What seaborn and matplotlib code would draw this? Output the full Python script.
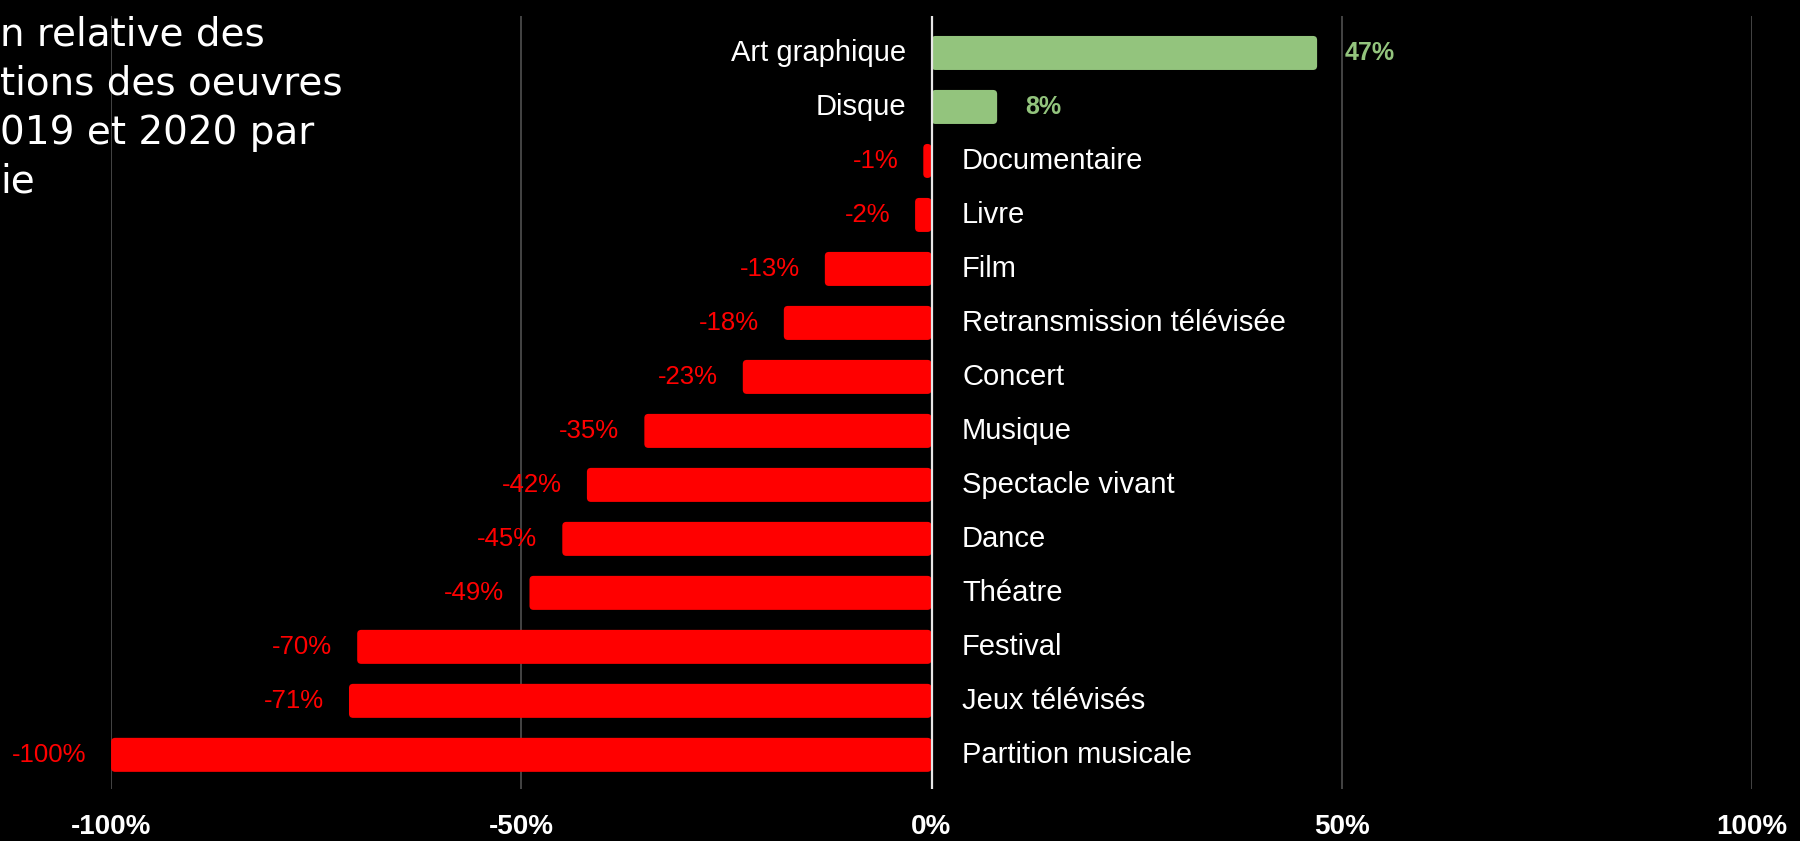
import matplotlib
matplotlib.use("Agg")
import matplotlib.pyplot as plt
from matplotlib.patches import FancyBboxPatch
import seaborn as sns
import pandas as pd

# Data
categories = ['Art graphique', 'Disque', 'Documentaire', 'Livre', 'Film',
              'Retransmission télévisée', 'Concert', 'Musique', 'Spectacle vivant',
              'Dance', 'Théatre', 'Festival', 'Jeux télévisés', 'Partition musicale']
values = [47, 8, -1, -2, -13, -18, -23, -35, -42, -45, -49, -70, -71, -100]
ticks = [-100, -50, 0, 50, 100]
tick_labels = ['-100%', '-50%', '0%', '50%', '100%']
title_visible = "n relative des\ntions des oeuvres\n019 et 2020 par\nie"

green = '#93c47d'
red = '#ff0000'

df = pd.DataFrame({'categorie': categories, 'variation': values})
colors = {c: (green if v >= 0 else red) for c, v in zip(categories, values)}

sns.set_style('dark')
plt.rcParams['font.family'] = ['Liberation Sans', 'DejaVu Sans']

fig = plt.figure(figsize=(18, 8.41), dpi=100, facecolor='black')
ax = fig.add_axes([0.0617, 0.062, 0.9116, 0.919])
ax.set_facecolor('black')

sns.barplot(data=df, x='variation', y='categorie', hue='categorie', palette=colors,
            orient='h', width=0.63, saturation=1, legend=False, ax=ax,
            linewidth=0, edgecolor='none')

ax.set_xlim(-100, 100)
ax.set_ylim(13.63, -0.685)

# swap the plain rectangles for rounded ones (same geometry)
aspect = (14.315 / 773) / (200 / 1641)
for p in list(ax.patches):
    x, y = p.get_x(), p.get_y()
    w, h = p.get_width(), p.get_height()
    fc = p.get_facecolor()
    p.remove()
    x0, x1 = min(x, x + w), max(x, x + w)
    ax.add_patch(FancyBboxPatch((x0, y), x1 - x0, h,
                                boxstyle='round,pad=0,rounding_size=0.5',
                                mutation_aspect=aspect, facecolor=fc,
                                edgecolor='none', zorder=3))

# grid
for t in ticks:
    if t == 0:
        ax.axvline(t, color='#e6e6e6', lw=1.6, zorder=4)
    else:
        ax.axvline(t, color='#444444', lw=1.4, zorder=1)

ax.set_xticks(ticks)
ax.set_xticklabels(tick_labels, color='white', fontsize=20, fontweight='bold')
ax.tick_params(axis='x', length=0, pad=18)
ax.set_yticks([])
ax.set_xlabel('')
ax.set_ylabel('')
for s in ax.spines.values():
    s.set_visible(False)
ax.grid(False)

# category labels and value labels
for i, (c, v) in enumerate(zip(categories, values)):
    if v >= 0:
        ax.annotate(c, xy=(0, i), xytext=(-18, 0), textcoords='offset points',
                    ha='right', va='center', color='white', fontsize=21)
        ax.annotate(f'{v}%', xy=(v, i), xytext=(20, 0), textcoords='offset points',
                    ha='left', va='center', color=green, fontsize=18, fontweight='bold')
    else:
        ax.annotate(c, xy=(0, i), xytext=(22, 0), textcoords='offset points',
                    ha='left', va='center', color='white', fontsize=21)
        ax.annotate(f'{v}%', xy=(v, i), xytext=(-18, 0), textcoords='offset points',
                    ha='right', va='center', color=red, fontsize=18.5)

fig.text(0.0, 0.981, title_visible, ha='left', va='top', color='white',
         fontsize=28, family=['DejaVu Sans'], linespacing=1.36)

fig.savefig('out.png', dpi=100, facecolor='black')
